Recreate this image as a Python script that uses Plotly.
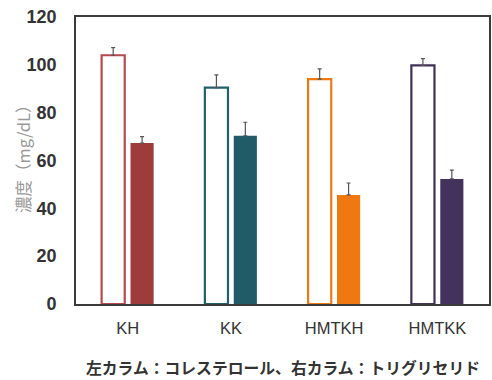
import plotly.graph_objects as go

categories = ["KH", "KK", "HMTKH", "HMTKK"]
cholesterol = [104, 90.5, 94, 99.8]
cholesterol_err = [3.2, 5.3, 4.3, 2.8]
triglyceride = [67.3, 70.3, 45.6, 52.3]
triglyceride_err = [2.7, 5.7, 5.0, 3.7]
outline_colors = ["#B8484C", "#22606C", "#F07A12", "#413159"]
fill_colors = ["#9E3B3B", "#215B68", "#F07810", "#42325C"]
y_ticks = [0, 20, 40, 60, 80, 100, 120]
y_title = "濃度（mg/dL）"
caption = "左カラム：コレステロール、右カラム：トリグリセリド"

fig = go.Figure()
fig.add_trace(go.Bar(
    x=categories, y=cholesterol, name="コレステロール",
    marker=dict(color="white", line=dict(color=outline_colors, width=2.2)),
    error_y=dict(type="data", symmetric=False, array=cholesterol_err,
                 arrayminus=[0] * len(cholesterol_err),
                 color="#555555", thickness=1.2, width=2),
))
fig.add_trace(go.Bar(
    x=categories, y=triglyceride, name="トリグリセリド",
    marker=dict(color=fill_colors, line=dict(width=0)),
    error_y=dict(type="data", symmetric=False, array=triglyceride_err,
                 arrayminus=[0] * len(triglyceride_err),
                 color="#555555", thickness=1.2, width=2),
))

fig.update_layout(
    width=492, height=380,
    margin=dict(l=76, r=1, t=17, b=76),
    paper_bgcolor="white", plot_bgcolor="white",
    barmode="group", bargap=0.44, bargroupgap=0.2,
    showlegend=False,
    font=dict(family="Liberation Sans, Arial, sans-serif", color="#333333"),
)
fig.update_xaxes(
    showline=True, linecolor="#3a3a3a", linewidth=1.6, mirror=True,
    ticks="", showgrid=False,
    tickfont=dict(size=16.5, color="#333333"),
    ticklabelstandoff=8,
)
fig.update_yaxes(
    range=[0, 120], tickvals=y_ticks, showgrid=False, zeroline=False,
    showline=True, linecolor="#3a3a3a", linewidth=1.6, mirror=True,
    ticks="",
    tickfont=dict(size=18, color="#333333", family="Liberation Sans, Arial, sans-serif", weight="bold"),
    ticklabelstandoff=14,
)
fig.add_annotation(
    text=y_title, xref="paper", yref="paper", x=-0.13, y=0.52,
    xanchor="center", yanchor="middle", textangle=-90, showarrow=False,
    font=dict(size=16.5, color="#999999", family="Noto Sans CJK JP"),
)
fig.add_annotation(
    text="<b>" + caption + "</b>", xref="paper", yref="paper", x=0.502, y=-0.22,
    xanchor="center", yanchor="middle", showarrow=False,
    font=dict(size=15.8, color="#333333", family="Noto Sans CJK JP"),
)

fig.write_html("out.html")
